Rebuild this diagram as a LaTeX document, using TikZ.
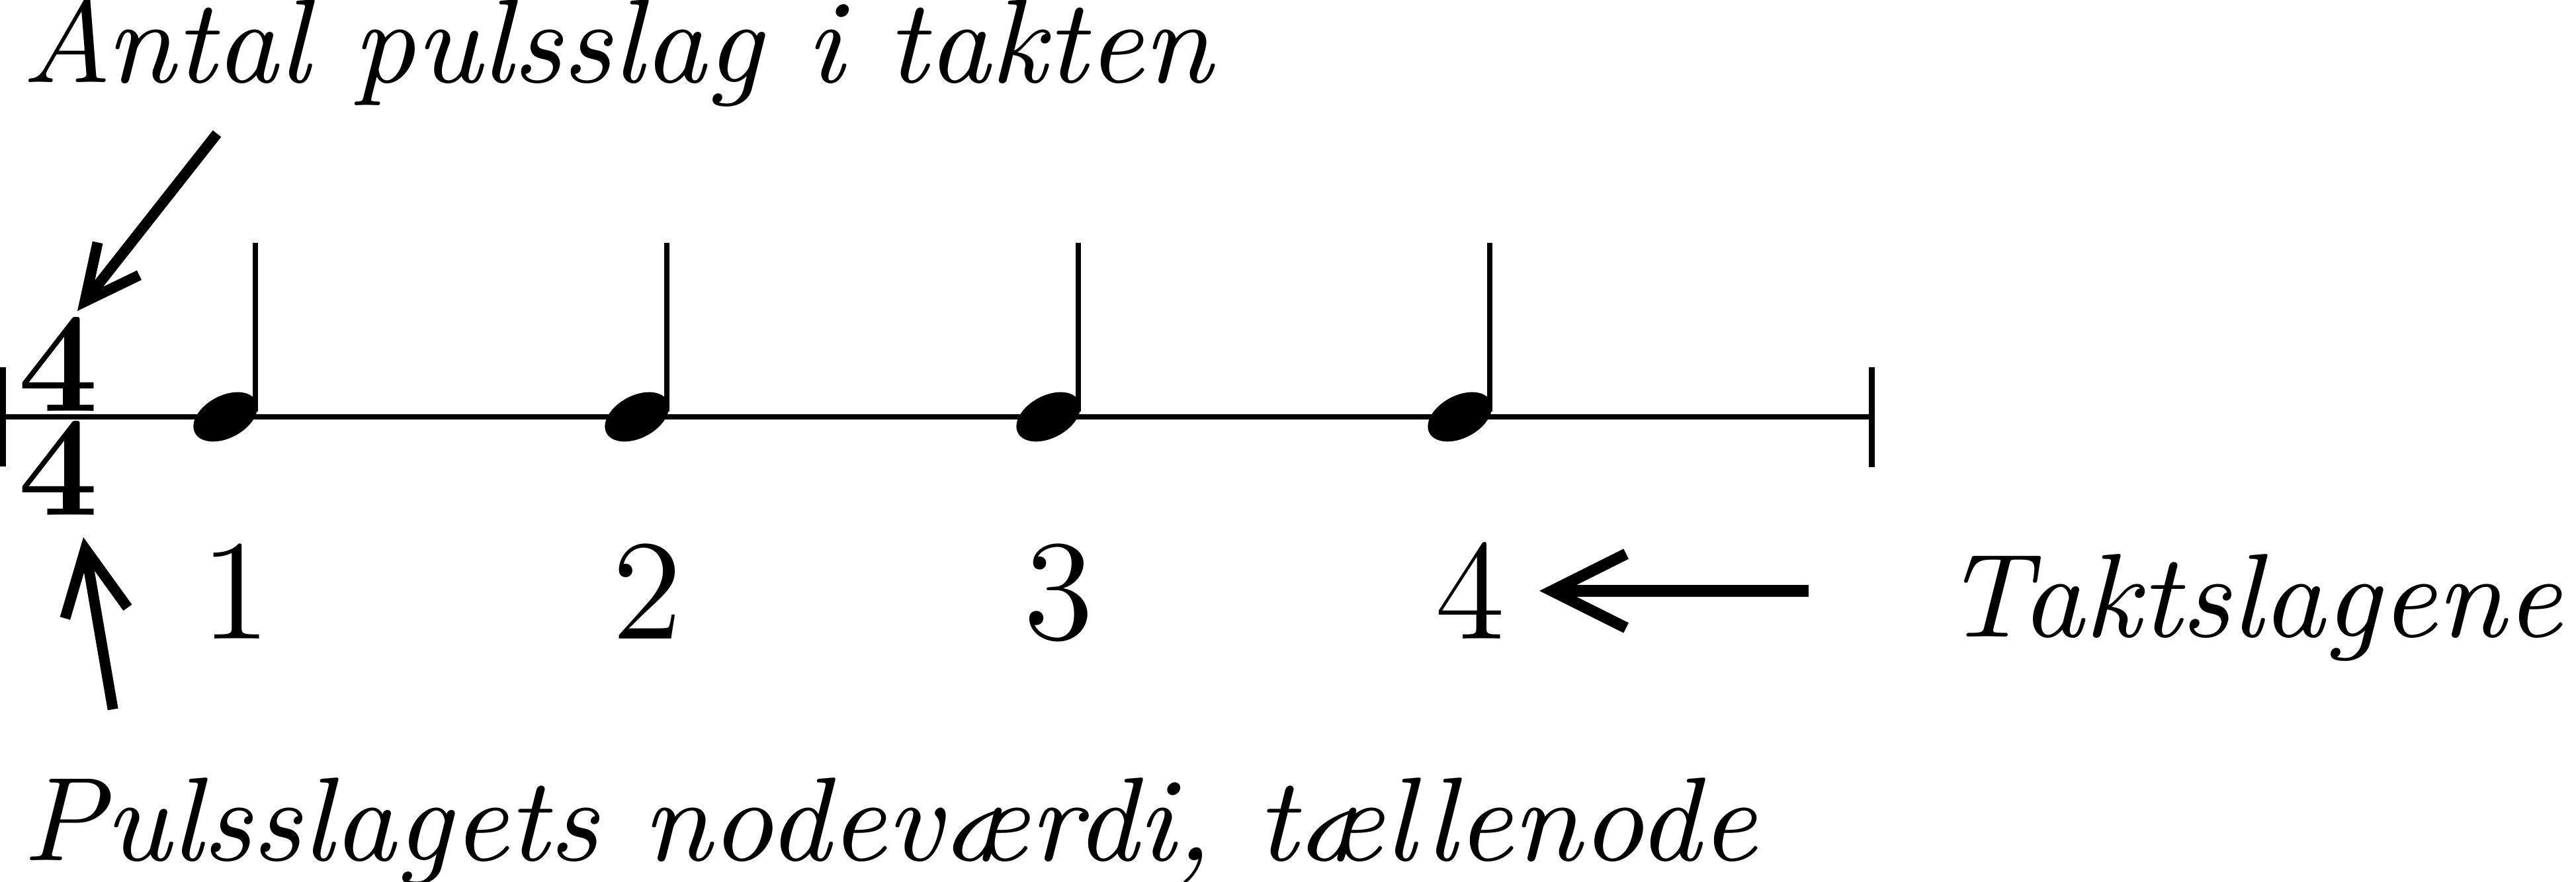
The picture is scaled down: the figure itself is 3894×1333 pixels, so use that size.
\documentclass[tikz,border=0pt]{standalone}
\usepackage{fontspec}
\newfontfamily\lblfont{lmroman9-italic}[Extension=.otf]
\usetikzlibrary{arrows.meta}
\begin{document}
\begin{tikzpicture}[x=0.0555556pt, y=-0.0555556pt,
  lbl/.style={inner sep=0pt, anchor=base west, font=\fontsize{10}{12}\selectfont\lblfont},
  num/.style={inner sep=0pt, anchor=base, font=\fontsize{12}{14}\selectfont},
  sig/.style={inner sep=0pt, anchor=base, font=\fontsize{12}{14}\selectfont\bfseries},
  staffline/.style={line width=0.47pt},
  barline/.style={line width=0.5pt},
  stem/.style={line width=0.46pt},
  notehead/.style={fill=black},
  pointerA/.style={line width=0.889pt, -{Straight Barb[length=4.56pt, width=4.44pt, line width=0.889pt]}},
  pointerB/.style={line width=0.889pt, -{Straight Barb[length=5.44pt, width=5.33pt, line width=0.889pt]}},
  pointerC/.style={line width=0.95pt, -{Straight Barb[length=6.22pt, width=6.22pt, line width=0.95pt]}},
]
\useasboundingbox (0,0) rectangle (3894,1333);

% staff and bar lines
\coordinate (barLt) at (4.5,555);
\coordinate (barLb) at (4.5,705);
\coordinate (barRt) at (2829,555);
\coordinate (barRb) at (2829,706);
\coordinate (staffL) at (4.5,630);
\coordinate (staffR) at (2829,630);
\draw[staffline] (staffL) -- (staffR);
\draw[barline] (barLt) -- (barLb);
\draw[barline] (barRt) -- (barRb);

% quarter notes
\foreach \i/\hx/\sx in {1/340.7/386, 2/962.7/1008, 3/1584.7/1630, 4/2206.7/2252} {
  \fill[notehead, shift={(\hx,630)}, rotate=28] (0,0) ellipse [x radius=52, y radius=32];
  \draw[stem] (\sx,367) -- (\sx,622);
}

% time signature
\node[sig] (tsTop) at (88.5,622) {4};
\node[sig] (tsBot) at (88.5,779) {4};

% beat numbers
\node[num] (b1) at (356.5,966) {1};
\node[num] (b2) at (978.5,966) {2};
\node[num] (b3) at (1600.5,966) {3};
\node[num] (b4) at (2222.5,966) {4};

% labels
\node[lbl] (antal) at (29,125) {Antal pulsslag i takten};
\node[lbl] (puls) at (30,1300) {Pulsslagets nodeværdi, tællenode};
\node[lbl] (takt) at (2934,962) {Taktslagene};

% pointers
\coordinate (topTail) at (328,202);
\coordinate (topTip) at (117,470);
\coordinate (botTail) at (170.7,1072);
\coordinate (botTip) at (126,812);
\coordinate (horTail) at (2734,893);
\coordinate (horTip) at (2327,893);
\draw[pointerA] (topTail) -- (topTip);
\draw[pointerB] (botTail) -- (botTip);
\draw[pointerC] (horTail) -- (horTip);
\end{tikzpicture}
\end{document}
